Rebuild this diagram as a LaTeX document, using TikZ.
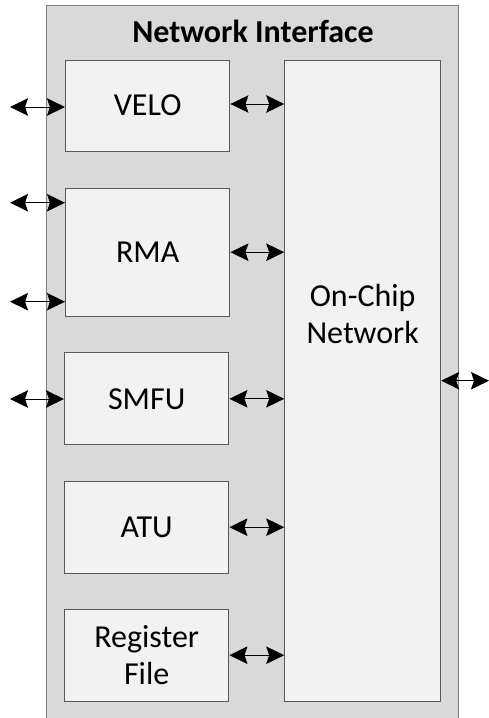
\documentclass[tikz,border=0pt]{standalone}
\usepackage{fontspec}
\setmainfont{Carlito}
\usetikzlibrary{arrows.meta}
\definecolor{outerfill}{HTML}{D9D9D9}
\definecolor{innerfill}{HTML}{F2F2F2}
\definecolor{edgegray}{HTML}{595959}
\definecolor{outergray}{HTML}{7F7F7F}
\begin{document}
\begin{tikzpicture}[x=1pt,y=-1pt,
  blockbox/.style={draw=edgegray,line width=1pt,fill=innerfill,minimum width=164.5pt,inner sep=0pt,font=\fontsize{32}{37.5}\selectfont,align=center},
  link/.style={line width=0.9pt,{Stealth[length=18pt,width=17.5pt,inset=3pt]}-{Stealth[length=18pt,width=17.5pt,inset=3pt]}}]
\useasboundingbox (0,0) rectangle (489,718);
\begin{scope}
\clip (0,0) rectangle (489,718);
\draw[draw=outergray,line width=1pt,fill=outerfill] (46,5) rectangle (458.7,730);
\end{scope}
\node[font=\fontsize{32}{37.5}\selectfont\bfseries] (title) at (253,31) {Network Interface};
\node[draw=edgegray,line width=1pt,fill=innerfill,minimum width=156pt,minimum height=641pt,inner sep=0pt] (net) at (362.7,380.5) {};
\node[font=\fontsize{32}{37.5}\selectfont,align=center] (netlabel) at (362.7,314) {On-Chip\\Network};
\node[blockbox,minimum height=91pt] (velo) at (147.7,105.5) {VELO};
\node[blockbox,minimum height=128.3pt] (rma) at (147.7,252.2) {RMA};
\node[blockbox,minimum height=91.7pt] (smfu) at (146.7,398.8) {SMFU};
\node[blockbox,minimum height=91.7pt] (atu) at (146.7,527.2) {ATU};
\node[blockbox,minimum height=91.7pt] (reg) at (146.7,655.2) {Register\\File};
% external ends
\coordinate (ev) at (10,107);
\coordinate (er1) at (10,202.7);
\coordinate (er2) at (10,301.7);
\coordinate (es) at (10,399);
\coordinate (eo) at (489,380.7);
% left arrows
\draw[link] (ev) -- (ev -| velo.west);
\draw[link] (er1) -- (er1 -| rma.west);
\draw[link] (er2) -- (er2 -| rma.west);
\draw[link] (es) -- (es -| smfu.west);
% to network
\draw[link] ([yshift=1.5pt]velo.east) -- ([yshift=1.5pt]velo.east -| net.west);
\draw[link] (rma.east) -- (rma.east -| net.west);
\draw[link] (smfu.east) -- (smfu.east -| net.west);
\draw[link] (atu.east) -- (atu.east -| net.west);
\draw[link] (reg.east) -- (reg.east -| net.west);
% right
\draw[link] (eo -| net.east) -- (eo);
\end{tikzpicture}
\end{document}
